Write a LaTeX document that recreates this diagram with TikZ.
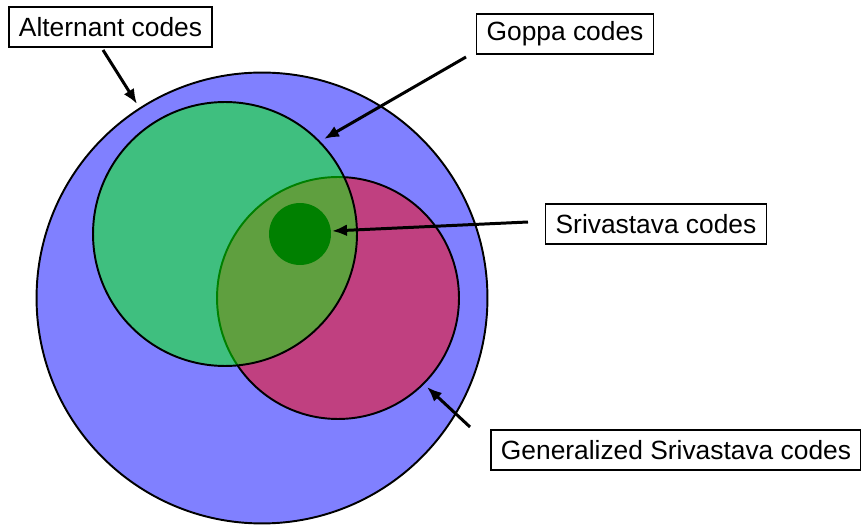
\documentclass[tikz,border=0pt]{standalone}
\usepackage{fontspec}
\setmainfont{Liberation Sans}
\usetikzlibrary{arrows.meta}

\definecolor{altblue}{RGB}{128,128,255}
\definecolor{gsmagenta}{RGB}{192,64,128}
\definecolor{srigreen}{RGB}{0,128,0}

\begin{document}
\begin{tikzpicture}[x=0.02cm, y=-0.02cm,
	codebox/.style={draw, line width=0.8pt, fill=white, inner xsep=0.2cm, minimum height=0.8cm, font=\fontsize{15}{18}\selectfont},
	pointer/.style={line width=1.7pt, -{Latex[length=0.3cm, width=0.24cm]}}]
			\def\rAlt{4.51cm};
			\def\rGoppa{2.64cm};
			\def\rGen{2.42cm};
			\def\rSri{0.62cm};
			
			\useasboundingbox (0,0) rectangle (861,526);
			
			% the four classes of codes
			\draw[line width=1.1pt, fill=altblue] (262,298) circle [radius=\rAlt];
			\draw[line width=1.1pt, fill=gsmagenta] (338,298) circle [radius=\rGen];
			\draw[line width=1.1pt, fill=green, fill opacity=0.5] (225,234) circle [radius=\rGoppa];
			\fill[srigreen] (300,234) circle [radius=\rSri];
			
			% labels
			\node[codebox] (alternant) at (110.5,27) {Alternant codes};
			\node[codebox] (goppa) at (565,34) {Goppa codes};
			\node[codebox] (srivastava) at (656,224) {Srivastava codes};
			\node[codebox] (generalized) at (676,450) {Generalized Srivastava codes};
			
			\coordinate (altfrom) at (103,50);
			\coordinate (alttip) at (137,104);
			\coordinate (goppafrom) at (466,57);
			\coordinate (goppatip) at (324,139);
			\coordinate (srifrom) at (528,222);
			\coordinate (sritip) at (332,231);
			\coordinate (genfrom) at (470,427);
			\coordinate (gentip) at (427,387);
			
			\draw[pointer] (altfrom) -- (alttip);
			\draw[pointer] (goppafrom) -- (goppatip);
			\draw[pointer] (srifrom) -- (sritip);
			\draw[pointer] (genfrom) -- (gentip);
		\end{tikzpicture}
\end{document}
